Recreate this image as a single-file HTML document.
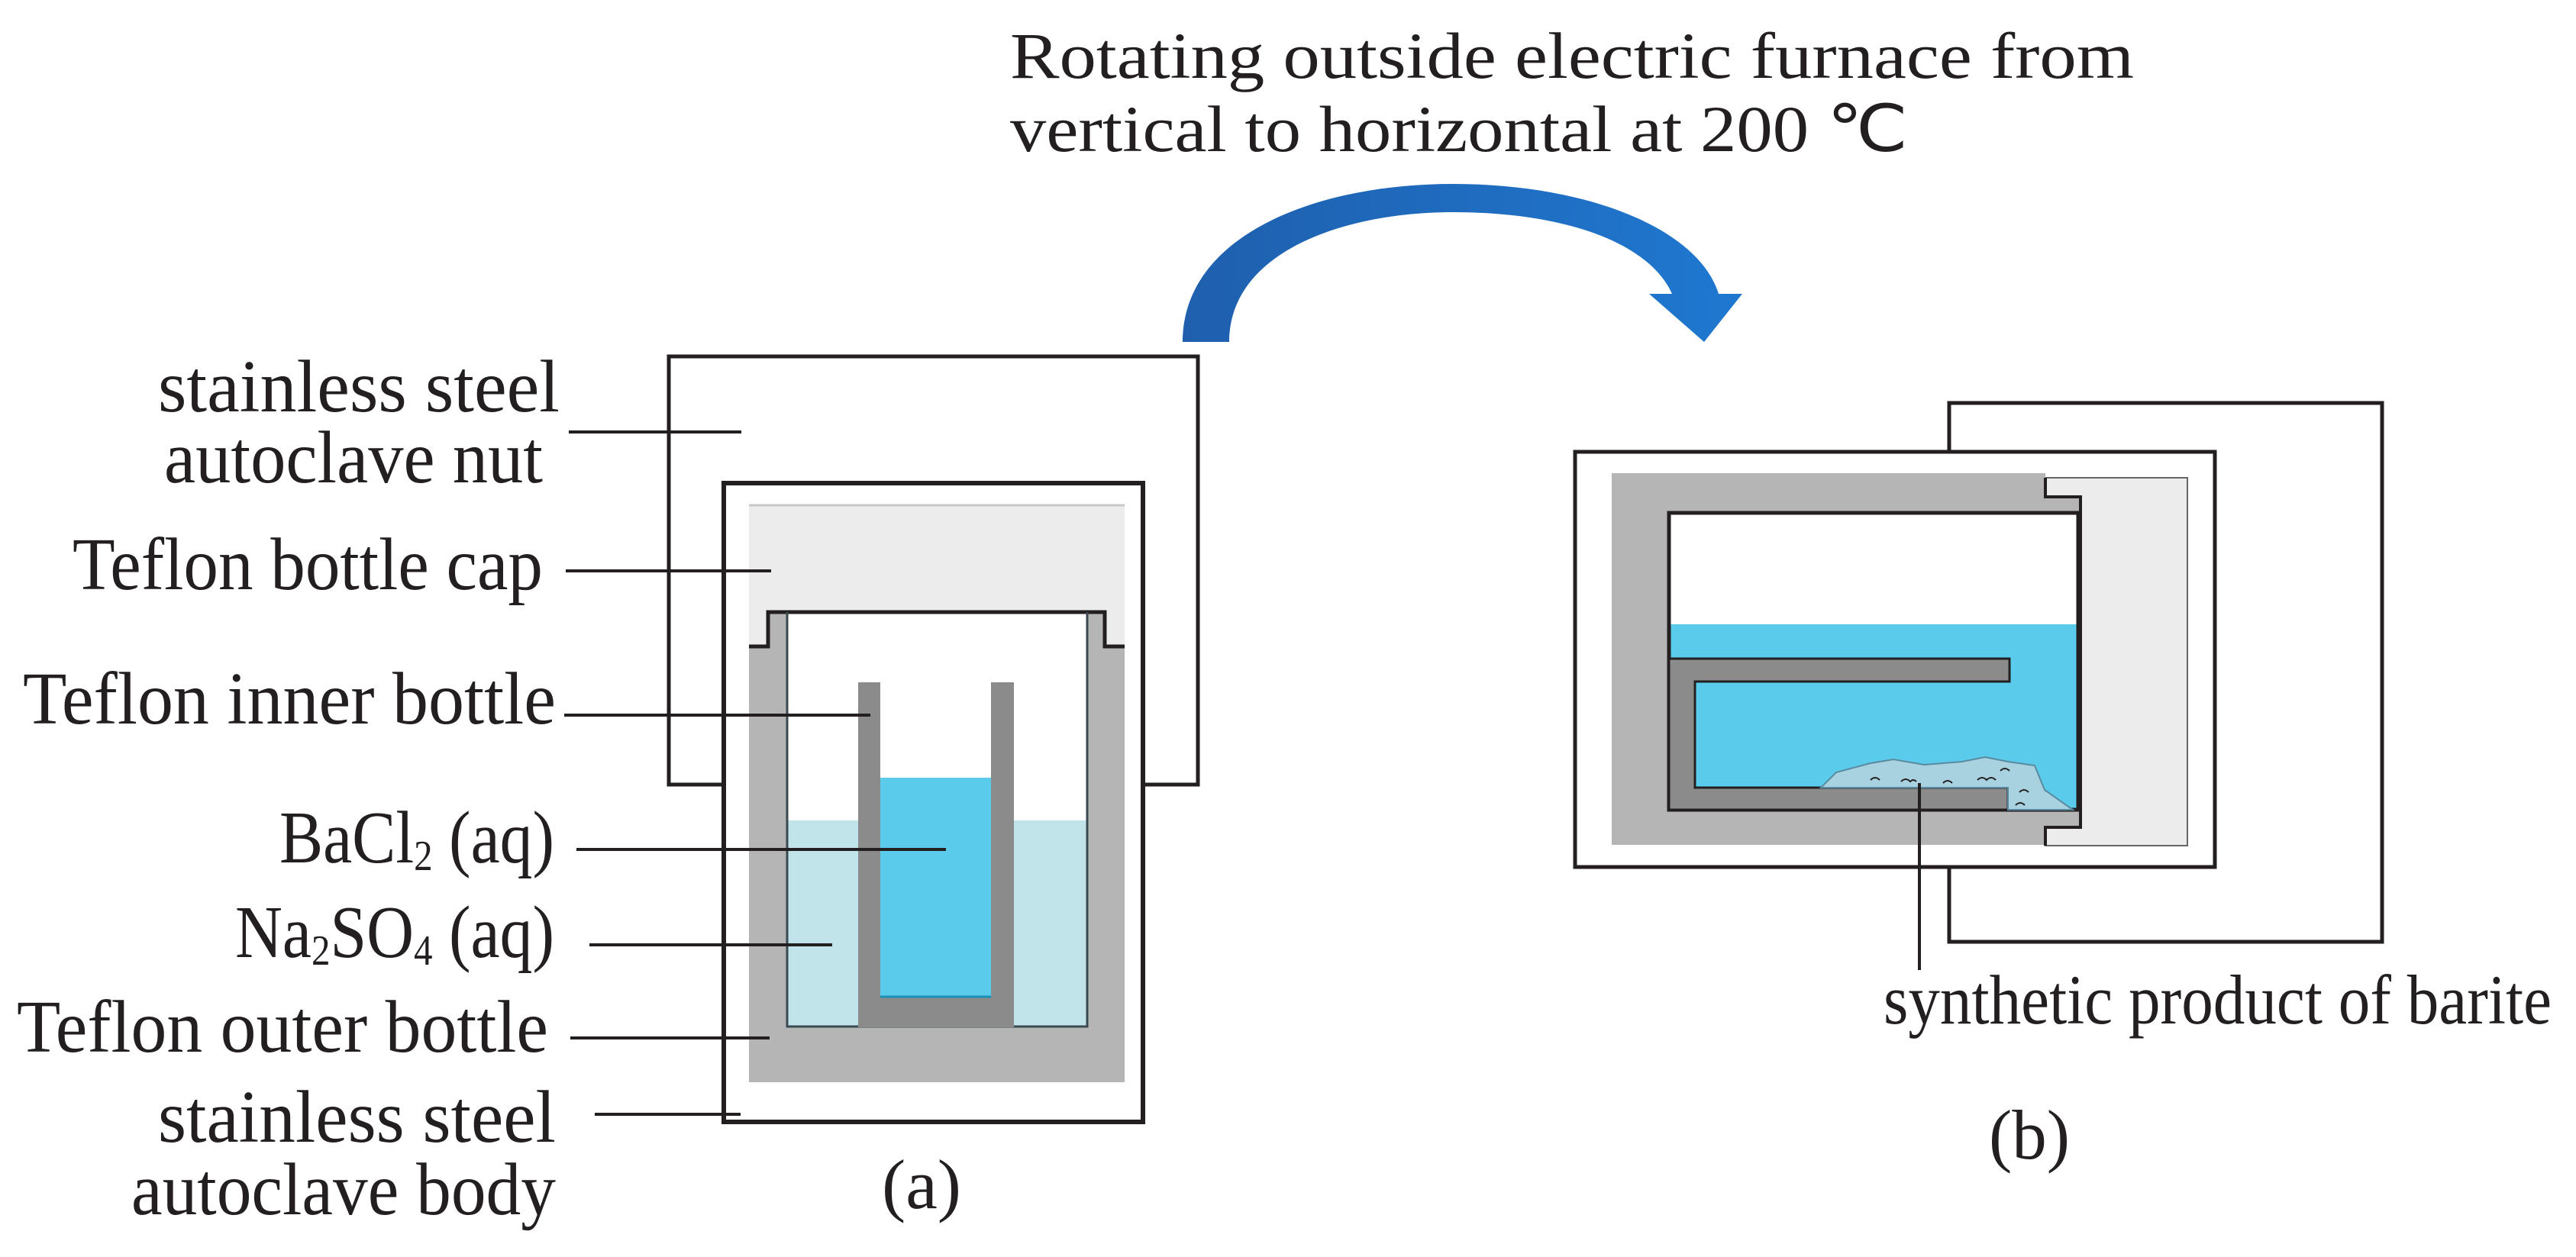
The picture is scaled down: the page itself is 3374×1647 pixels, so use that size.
<!DOCTYPE html>
<html><head><meta charset="utf-8"><style>
html,body{margin:0;padding:0;background:#fff;}
svg{display:block;}
text{font-family:"Liberation Serif",serif;fill:#231f20;}
</style></head><body>
<svg width="3374" height="1647" viewBox="0 0 3374 1647" xmlns="http://www.w3.org/2000/svg">
<defs>
<linearGradient id="bl" x1="0" y1="0" x2="1" y2="0">
<stop offset="0" stop-color="#1f5fae"/><stop offset="1" stop-color="#1f78d0"/>
</linearGradient>
</defs>
<!-- Title -->
<text x="1323" y="102" font-size="86" textLength="1472" lengthAdjust="spacingAndGlyphs">Rotating outside electric furnace from</text>
<text x="1323" y="198" font-size="86" textLength="1176" lengthAdjust="spacingAndGlyphs">vertical to horizontal at 200 ℃</text>

<!-- Arrow -->
<path d="M1549,448 C1549,310 1720,241 1903,241 C2080,241 2225,300 2251,385 L2282,385 L2232,448 L2160,385 L2190,385 C2160,318 2050,278 1903,278 C1760,278 1610,330 1610,448 Z" fill="url(#bl)"/>

<!-- LEFT (a) -->
<rect x="876" y="467" width="693" height="561" fill="#fff" stroke="#231f20" stroke-width="5"/>
<rect x="948" y="633" width="549" height="837" fill="#fff" stroke="#231f20" stroke-width="6"/>
<rect x="981" y="662" width="492" height="186" fill="#ececec"/>
<line x1="981" y1="662" x2="1473" y2="662" stroke="#c8c8c8" stroke-width="3"/>
<rect x="981" y="847" width="492" height="571" fill="#b5b5b5"/>
<rect x="1006" y="802" width="441" height="50" fill="#b5b5b5"/>
<rect x="1031" y="802" width="393" height="543" fill="#fff"/>
<rect x="1031" y="1075" width="393" height="270" fill="#c1e4ea"/>
<path d="M981,847 L1006,847 L1006,802 L1447,802 L1447,847 L1473,847" fill="none" stroke="#231f20" stroke-width="5"/>
<path d="M1031,802 L1031,1345 L1424,1345 L1424,802" fill="none" stroke="#3a4a50" stroke-width="3"/>
<rect x="1124" y="894" width="204" height="452" fill="#8b8b8b"/>
<rect x="1153" y="894" width="145" height="412" fill="#fff"/>
<rect x="1153" y="1019" width="145" height="287" fill="#5bcbec"/>
<line x1="1153" y1="1306" x2="1298" y2="1306" stroke="#1c8fb8" stroke-width="3"/>
<!-- leader lines a -->
<g stroke="#231f20" stroke-width="4">
<line x1="745" y1="566" x2="971" y2="566"/>
<line x1="741" y1="748" x2="1010" y2="748"/>
<line x1="739" y1="937" x2="1140" y2="937"/>
<line x1="755" y1="1113" x2="1239" y2="1113"/>
<line x1="772" y1="1238" x2="1090" y2="1238"/>
<line x1="747" y1="1360" x2="1008" y2="1360"/>
<line x1="779" y1="1460" x2="970" y2="1460"/>
</g>
<g font-size="98">
<text x="207" y="539" textLength="526" lengthAdjust="spacingAndGlyphs">stainless steel</text>
<text x="215" y="632" textLength="496" lengthAdjust="spacingAndGlyphs">autoclave nut</text>
<text x="95" y="772" textLength="616" lengthAdjust="spacingAndGlyphs">Teflon bottle cap</text>
<text x="30" y="948" textLength="698" lengthAdjust="spacingAndGlyphs">Teflon inner bottle</text>
<text x="366" y="1130" textLength="360" lengthAdjust="spacingAndGlyphs">BaCl<tspan font-size="56" dy="10">2</tspan><tspan dy="-10"> (aq)</tspan></text>
<text x="308" y="1254" textLength="418" lengthAdjust="spacingAndGlyphs">Na<tspan font-size="56" dy="10">2</tspan><tspan dy="-10">SO</tspan><tspan font-size="56" dy="10">4</tspan><tspan dy="-10"> (aq)</tspan></text>
<text x="22" y="1378" textLength="696" lengthAdjust="spacingAndGlyphs">Teflon outer bottle</text>
<text x="207" y="1496" textLength="521" lengthAdjust="spacingAndGlyphs">stainless steel</text>
<text x="172" y="1591" textLength="556" lengthAdjust="spacingAndGlyphs">autoclave body</text>
</g>
<text x="1155" y="1583" font-size="92" textLength="104" lengthAdjust="spacingAndGlyphs">(a)</text>

<!-- RIGHT (b) -->
<rect x="2553" y="528" width="567" height="706" fill="#fff" stroke="#231f20" stroke-width="5"/>
<rect x="2063" y="592" width="838" height="544" fill="#fff" stroke="#231f20" stroke-width="5"/>
<rect x="2679" y="626" width="186" height="482" fill="#ececec" stroke="#666" stroke-width="2"/>
<rect x="2111" y="620" width="568" height="487" fill="#b5b5b5"/>
<rect x="2679" y="651" width="46" height="433" fill="#b5b5b5"/>
<rect x="2186" y="672" width="536" height="389" fill="#fff"/>
<rect x="2186" y="818" width="536" height="243" fill="#5bcbec"/>
<path d="M2679,626 L2679,651 L2725,651 L2725,1084 L2679,1084 L2679,1108" fill="none" stroke="#231f20" stroke-width="4"/>
<rect x="2186" y="672" width="536" height="389" fill="none" stroke="#231f20" stroke-width="5"/>
<path d="M2186,863 L2632,863 L2632,893 L2220,893 L2220,1032 L2630,1032 L2630,1061 L2186,1061 Z" fill="#8b8b8b" stroke="#231f20" stroke-width="3"/>
<path d="M2385,1032 L2405,1012 L2450,1000 L2480,995 L2520,1002 L2570,998 L2600,992 L2630,998 L2665,1003 L2678,1035 L2715,1061 L2630,1061 L2630,1032 Z" fill="#a8d2e0" stroke="#5a8aa0" stroke-width="2"/>
<g stroke="#231f20" stroke-width="2" fill="none">
<path d="M2450,1022 q6,-6 12,0"/><path d="M2490,1024 q6,-6 12,0 q4,-4 8,0"/><path d="M2545,1026 q6,-6 12,0"/>
<path d="M2590,1022 q6,-6 12,0 q6,-6 12,0"/><path d="M2620,1010 q6,-6 12,0"/><path d="M2645,1038 q6,-6 12,0"/><path d="M2640,1055 q6,-6 12,0"/>
</g>
<line x1="2514" y1="1026" x2="2514" y2="1271" stroke="#231f20" stroke-width="4"/>
<text x="2467" y="1341" font-size="92" textLength="875" lengthAdjust="spacingAndGlyphs">synthetic product of barite</text>
<text x="2605" y="1518" font-size="92" textLength="106" lengthAdjust="spacingAndGlyphs">(b)</text>
</svg>
</body></html>
